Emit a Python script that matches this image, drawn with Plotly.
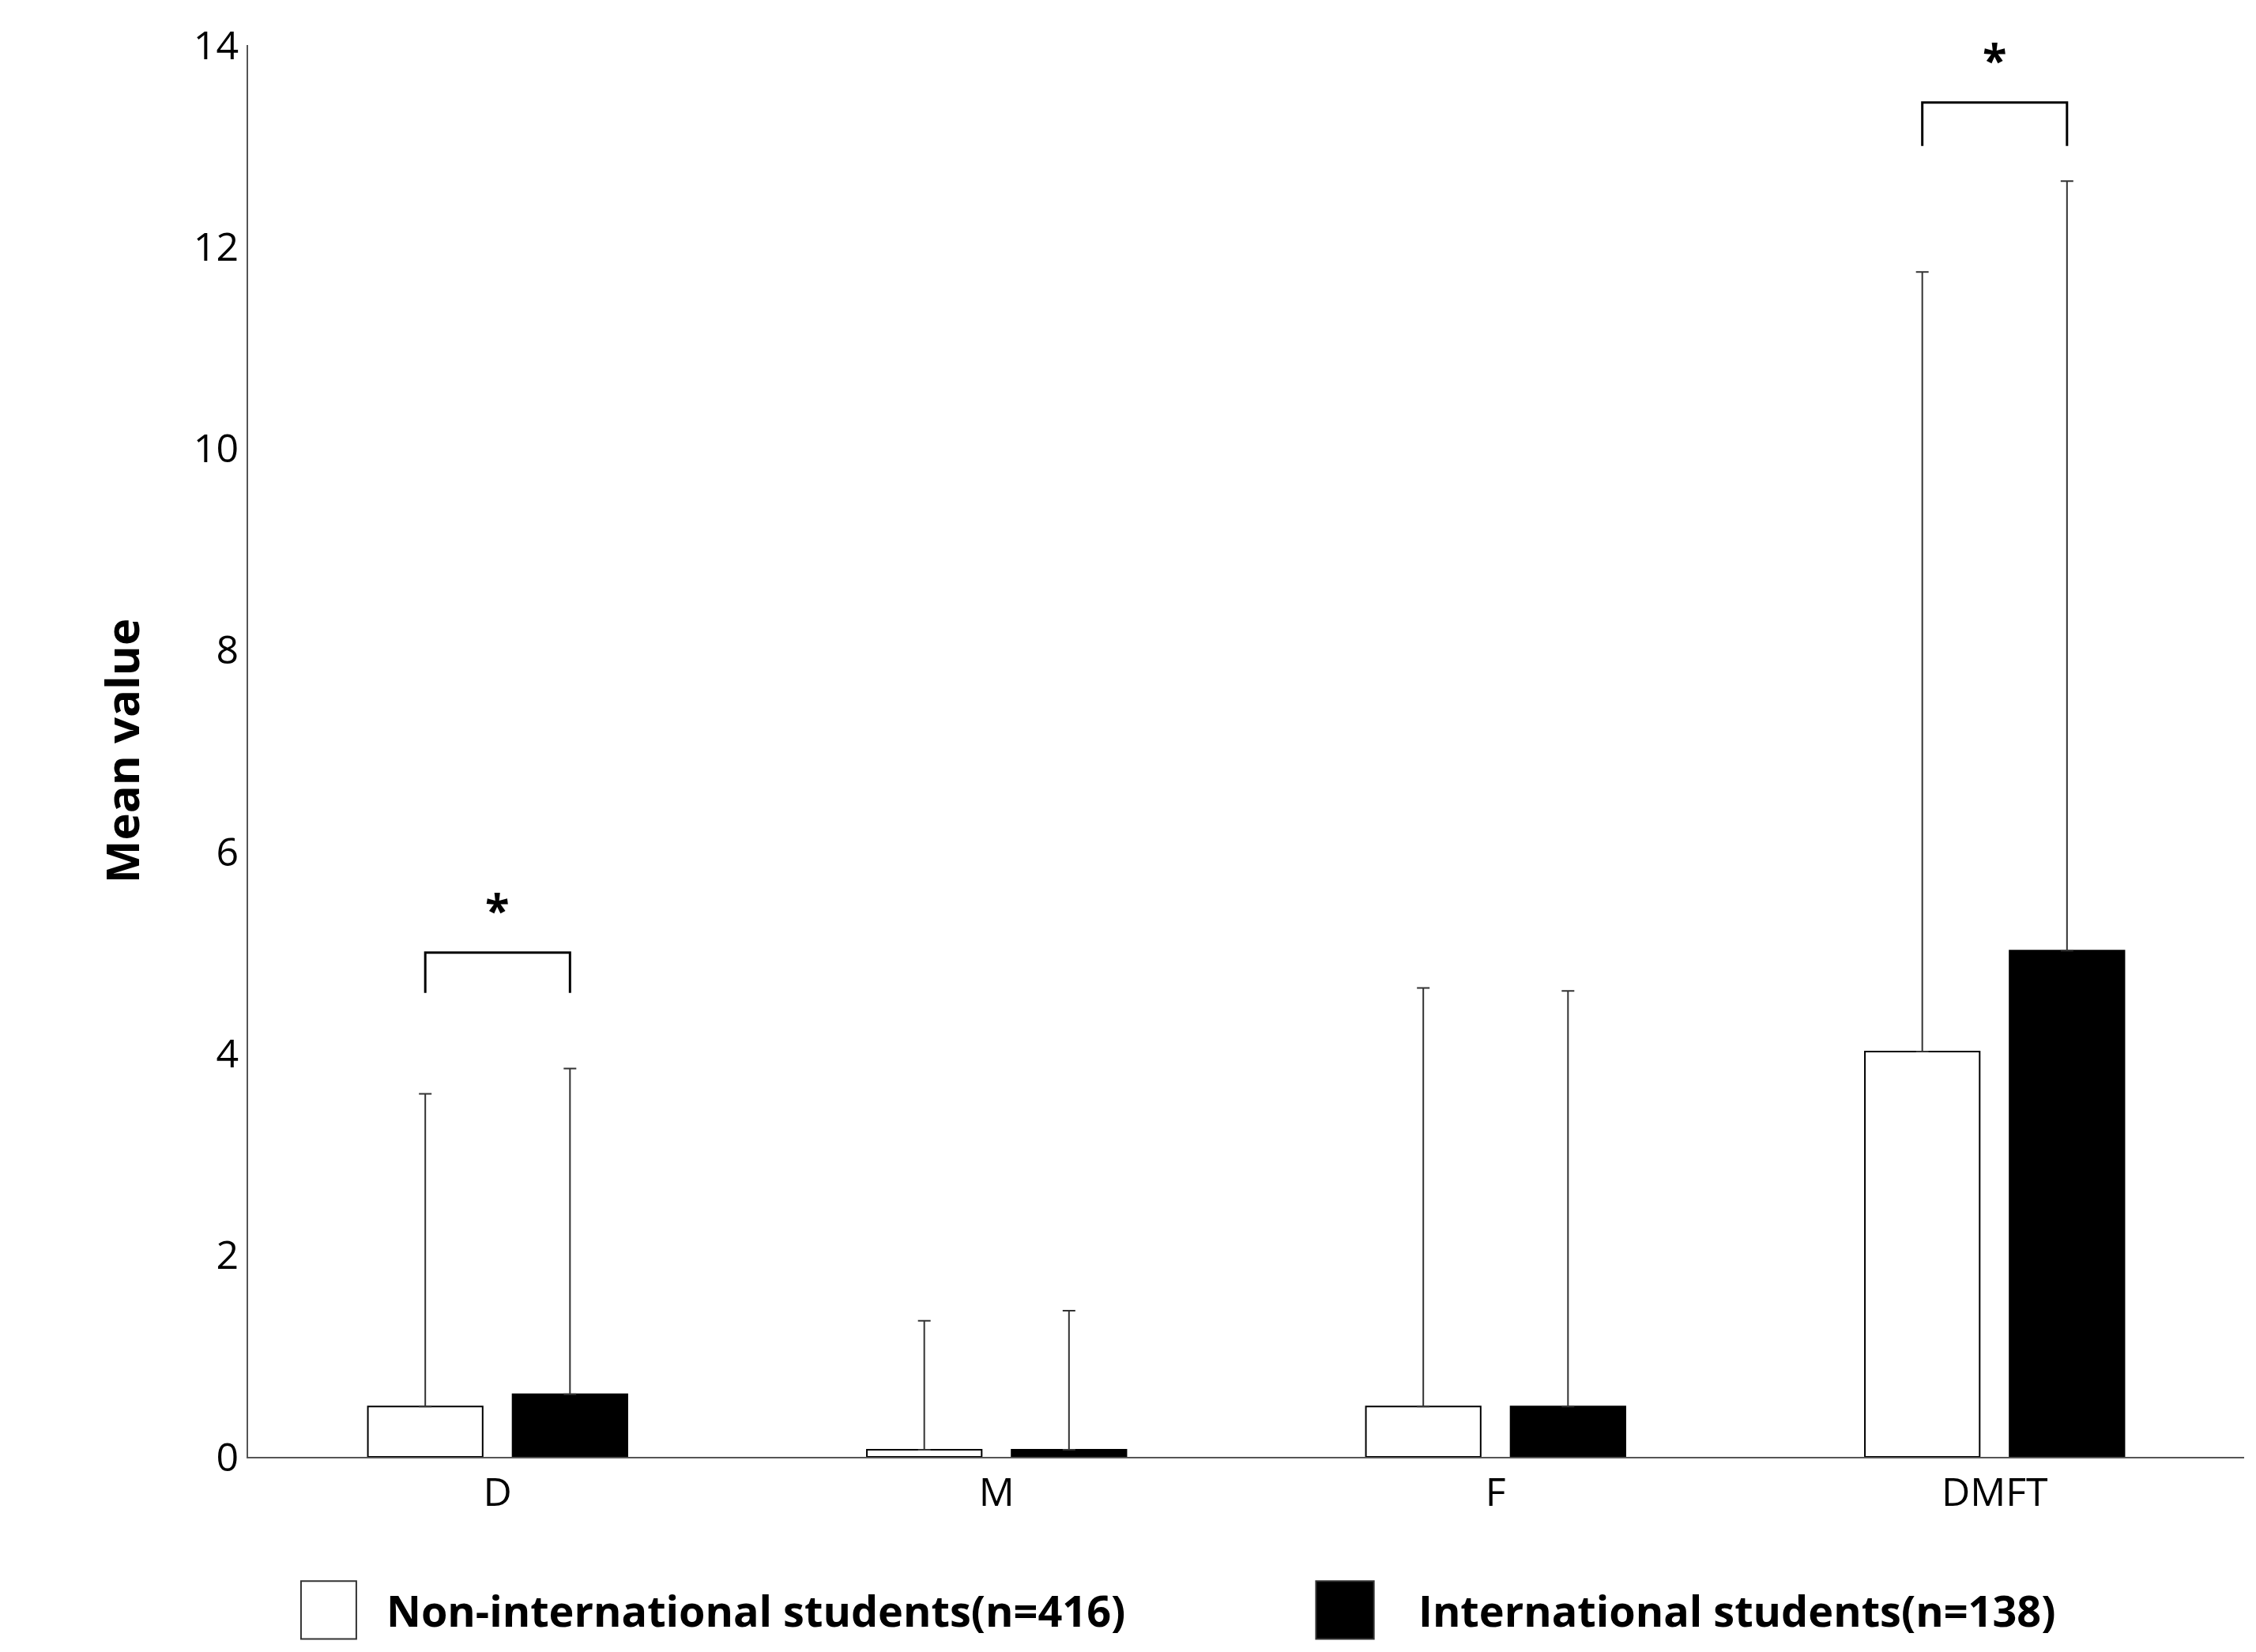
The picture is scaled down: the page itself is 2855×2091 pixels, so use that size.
import plotly.graph_objects as go

categories = ["D", "M", "F", "DMFT"]
non_intl_mean = [0.5, 0.07, 0.5, 4.02]
non_intl_upper = [3.6, 1.35, 4.65, 11.75]
intl_mean = [0.62, 0.07, 0.5, 5.02]
intl_upper = [3.85, 1.45, 4.62, 12.65]
sig_brackets = [(0, 4.6, 5.0), (3, 13.0, 13.43)]
legend_names = ["Non-international students(n=416)", "International students(n=138)"]

off = 0.145
w = 0.23
xs = list(range(len(categories)))

fig = go.Figure()
fig.add_bar(x=[x - off for x in xs], y=non_intl_mean, width=w, name=legend_names[0],
            marker=dict(color="white", line=dict(color="black", width=2)),
            error_y=dict(type="data", symmetric=False,
                         array=[u - m for u, m in zip(non_intl_upper, non_intl_mean)],
                         arrayminus=[0]*4, color="#333", thickness=2, width=8))
fig.add_bar(x=[x + off for x in xs], y=intl_mean, width=w, name=legend_names[1],
            marker=dict(color="black", line=dict(color="black", width=2)),
            error_y=dict(type="data", symmetric=False,
                         array=[u - m for u, m in zip(intl_upper, intl_mean)],
                         arrayminus=[0]*4, color="#333", thickness=2, width=8))

for i, yb, yt in sig_brackets:
    fig.add_shape(type="path", xref="x", yref="y",
                  path=f"M {i-off},{yb} L {i-off},{yt} L {i+off},{yt} L {i+off},{yb}",
                  line=dict(color="black", width=3))
    fig.add_annotation(x=i, y=yt + 0.12, text="<b>*</b>", showarrow=False,
                       yanchor="bottom", font=dict(size=56, color="black"))

# manual legend
leg = [(0.0265, 0.0542, 0.0685, "white"), (0.535, 0.564, 0.5855, "black")]
for (x0, x1, xt, col), name in zip(leg, legend_names):
    fig.add_shape(type="rect", xref="paper", yref="paper", x0=x0, x1=x1, y0=-0.129, y1=-0.088,
                  fillcolor=col, line=dict(color="#333", width=2))
    fig.add_annotation(xref="paper", yref="paper", x=xt, y=-0.1086, text=f"<b>{name}</b>",
                       showarrow=False, xanchor="left", yanchor="middle",
                       font=dict(size=54, color="black"))

fig.update_layout(
    width=2855, height=2091, plot_bgcolor="white", paper_bgcolor="white",
    margin=dict(l=306, r=23, t=49, b=255),
    font=dict(family="Open Sans", color="black", size=50),
    showlegend=False,
    xaxis=dict(range=[-0.5, 3.5], tickvals=xs, ticktext=categories, showline=True,
               linecolor="#555", linewidth=2, ticks="", showgrid=False),
    yaxis=dict(range=[0, 14], dtick=2, showline=True, linecolor="#555", linewidth=2,
               ticks="", showgrid=False, zeroline=False,
               title=dict(text="<b>Mean value</b>", font=dict(size=58), standoff=50)),
)
fig.write_html("out.html")
